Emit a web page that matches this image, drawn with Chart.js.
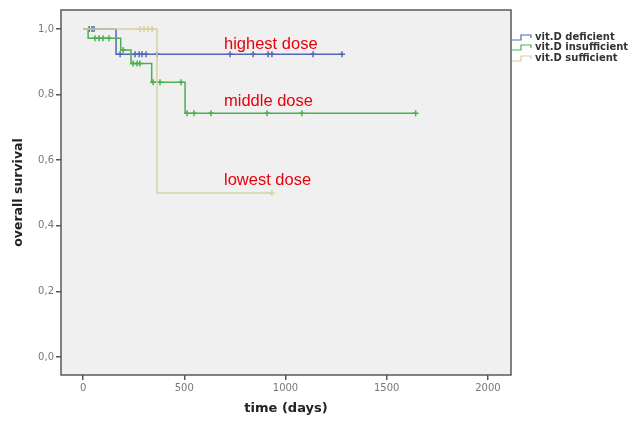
<!DOCTYPE html>
<html>
<head>
<meta charset="utf-8">
<script src="https://cdn.jsdelivr.net/npm/chart.js@4/dist/chart.umd.min.js"></script>
<style>
  html, body { margin: 0; padding: 0; background: #fff; }
  #wrap { width: 637px; height: 424px; }
</style>
</head>
<body>
<div id="wrap"><canvas id="km"></canvas></div>
<script>
// Kaplan-Meier data (days, survival)
const deficientTimes = [0, 163, 1279];
const deficientSurv = [1.0, 0.923, 0.923];
const deficientCensored = [30, 44, 54, 183, 257, 277, 291, 311, 365, 726, 840, 914, 933, 1136, 1279];

const insufficientTimes = [0, 25, 186, 237, 339, 504, 1643];
const insufficientSurv = [1.0, 0.972, 0.936, 0.895, 0.838, 0.743, 0.743];
const insufficientCensored = [59, 79, 99, 128, 198, 247, 267, 281, 346, 380, 484, 514, 548, 632, 909, 1081, 1643];

const sufficientTimes = [0, 365, 933];
const sufficientSurv = [1.0, 0.5, 0.5];
const sufficientCensored = [281, 301, 321, 341, 933];

const groupNames = ['vit.D deficient', 'vit.D insufficient', 'vit.D sufficient'];
const doseLabels = ['highest dose', 'middle dose', 'lowest dose'];
const xTicks = [0, 500, 1000, 1500, 2000];
const yTicks = [0, 0.2, 0.4, 0.6, 0.8, 1.0];

const colors = ['#5366b6', '#4caf50', '#d8d1a2'];

function curve(times, surv) {
    return times.map((t, i) => ({ x: t, y: surv[i] }));
}

// survival level at a censoring time (step function lookup)
function censorPoints(times, surv, cens) {
    return cens.map(t => {
        let s = surv[0];
        for (let i = 0; i < times.length; i++) {
            if (times[i] <= t) s = surv[i];
        }
        return { x: t, y: s };
    });
}

const groups = [
    [deficientTimes, deficientSurv, deficientCensored],
    [insufficientTimes, insufficientSurv, insufficientCensored],
    [sufficientTimes, sufficientSurv, sufficientCensored]
];

const datasets = [];
// draw sufficient first so others lie over it
[2, 1, 0].forEach(g => {
    const [t, s, c] = groups[g];
    datasets.push({
        label: groupNames[g],
        data: curve(t, s),
        borderColor: colors[g],
        borderWidth: 1.5,
        stepped: true,
        pointRadius: 0,
        fill: false
    });
    datasets.push({
        label: groupNames[g] + ' censored',
        data: censorPoints(t, s, c),
        showLine: false,
        pointStyle: 'cross',
        pointRadius: 3,
        borderColor: colors[g],
        borderWidth: 1.5,
        pointBorderWidth: 1.5
    });
});

// background + frame of plot area, red dose labels, legend
const decorations = {
    id: 'decorations',
    beforeDraw(chart) {
        const { ctx, chartArea: a } = chart;
        ctx.save();
        ctx.fillStyle = '#f0f0f0';
        ctx.fillRect(a.left, a.top, a.right - a.left, a.bottom - a.top);
        ctx.restore();
    },
    afterDraw(chart) {
        const { ctx, chartArea: a } = chart;
        ctx.save();
        ctx.strokeStyle = '#5a5a5a';
        ctx.lineWidth = 1.5;
        ctx.strokeRect(a.left, a.top, a.right - a.left, a.bottom - a.top);

        // dose labels
        ctx.fillStyle = '#e8000b';
        ctx.font = '16.5px "Liberation Sans", Arial, sans-serif';
        ctx.textBaseline = 'middle';
        const labelY = [44, 101, 180];
        doseLabels.forEach((txt, i) => ctx.fillText(txt, 224, labelY[i]));

        // legend
        ctx.font = 'bold 10px "DejaVu Sans", sans-serif';
        ctx.fillStyle = '#333';
        const legY = [37, 47, 58];
        groupNames.forEach((name, i) => {
            const y = legY[i];
            ctx.strokeStyle = colors[i];
            ctx.lineWidth = 1.2;
            ctx.beginPath();
            ctx.moveTo(512, y + 3);
            ctx.lineTo(521, y + 3);
            ctx.lineTo(521, y - 2);
            ctx.lineTo(531, y - 2);
            ctx.lineTo(531, y + 1);
            ctx.stroke();
            ctx.fillText(name, 535, y);
        });
        ctx.restore();
    }
};

new Chart(document.getElementById('km'), {
    type: 'line',
    data: { datasets: datasets },
    options: {
        responsive: true,
        maintainAspectRatio: false,
        animation: false,
        layout: { padding: { top: 10, right: 126, left: 0, bottom: 0 } },
        plugins: {
            legend: { display: false },
            tooltip: { enabled: false }
        },
        scales: {
            x: {
                type: 'linear',
                min: -109,
                max: 2114,
                afterBuildTicks: s => { s.ticks = xTicks.map(v => ({ value: v })); },
                afterFit: s => { s.height = 49; },
                grid: { drawOnChartArea: false, drawTicks: true, tickLength: 5, color: '#555', lineWidth: 1.5 },
                border: { display: false },
                ticks: {
                    color: '#777',
                    font: { family: 'DejaVu Sans', size: 10 },
                    padding: 2,
                    maxRotation: 0,
                    callback: v => String(v)
                },
                title: {
                    display: true,
                    text: 'time (days)',
                    color: '#222',
                    font: { family: 'DejaVu Sans', size: 13, weight: 'bold' },
                    padding: { top: 4, bottom: 8 }
                }
            },
            y: {
                type: 'linear',
                min: -0.055,
                max: 1.058,
                afterBuildTicks: s => { s.ticks = yTicks.map(v => ({ value: v })); },
                afterFit: s => { s.width = 61; },
                grid: { drawOnChartArea: false, drawTicks: true, tickLength: 5, color: '#555', lineWidth: 1.5 },
                border: { display: false },
                ticks: {
                    color: '#777',
                    font: { family: 'DejaVu Sans', size: 10 },
                    padding: 2,
                    callback: v => v.toFixed(1).replace('.', ',')
                },
                title: {
                    display: true,
                    text: 'overall survival',
                    color: '#222',
                    font: { family: 'DejaVu Sans', size: 12.5, weight: 'bold' },
                    padding: { top: 11, bottom: 4 }
                }
            }
        }
    },
    plugins: [decorations]
});
</script>
</body>
</html>
